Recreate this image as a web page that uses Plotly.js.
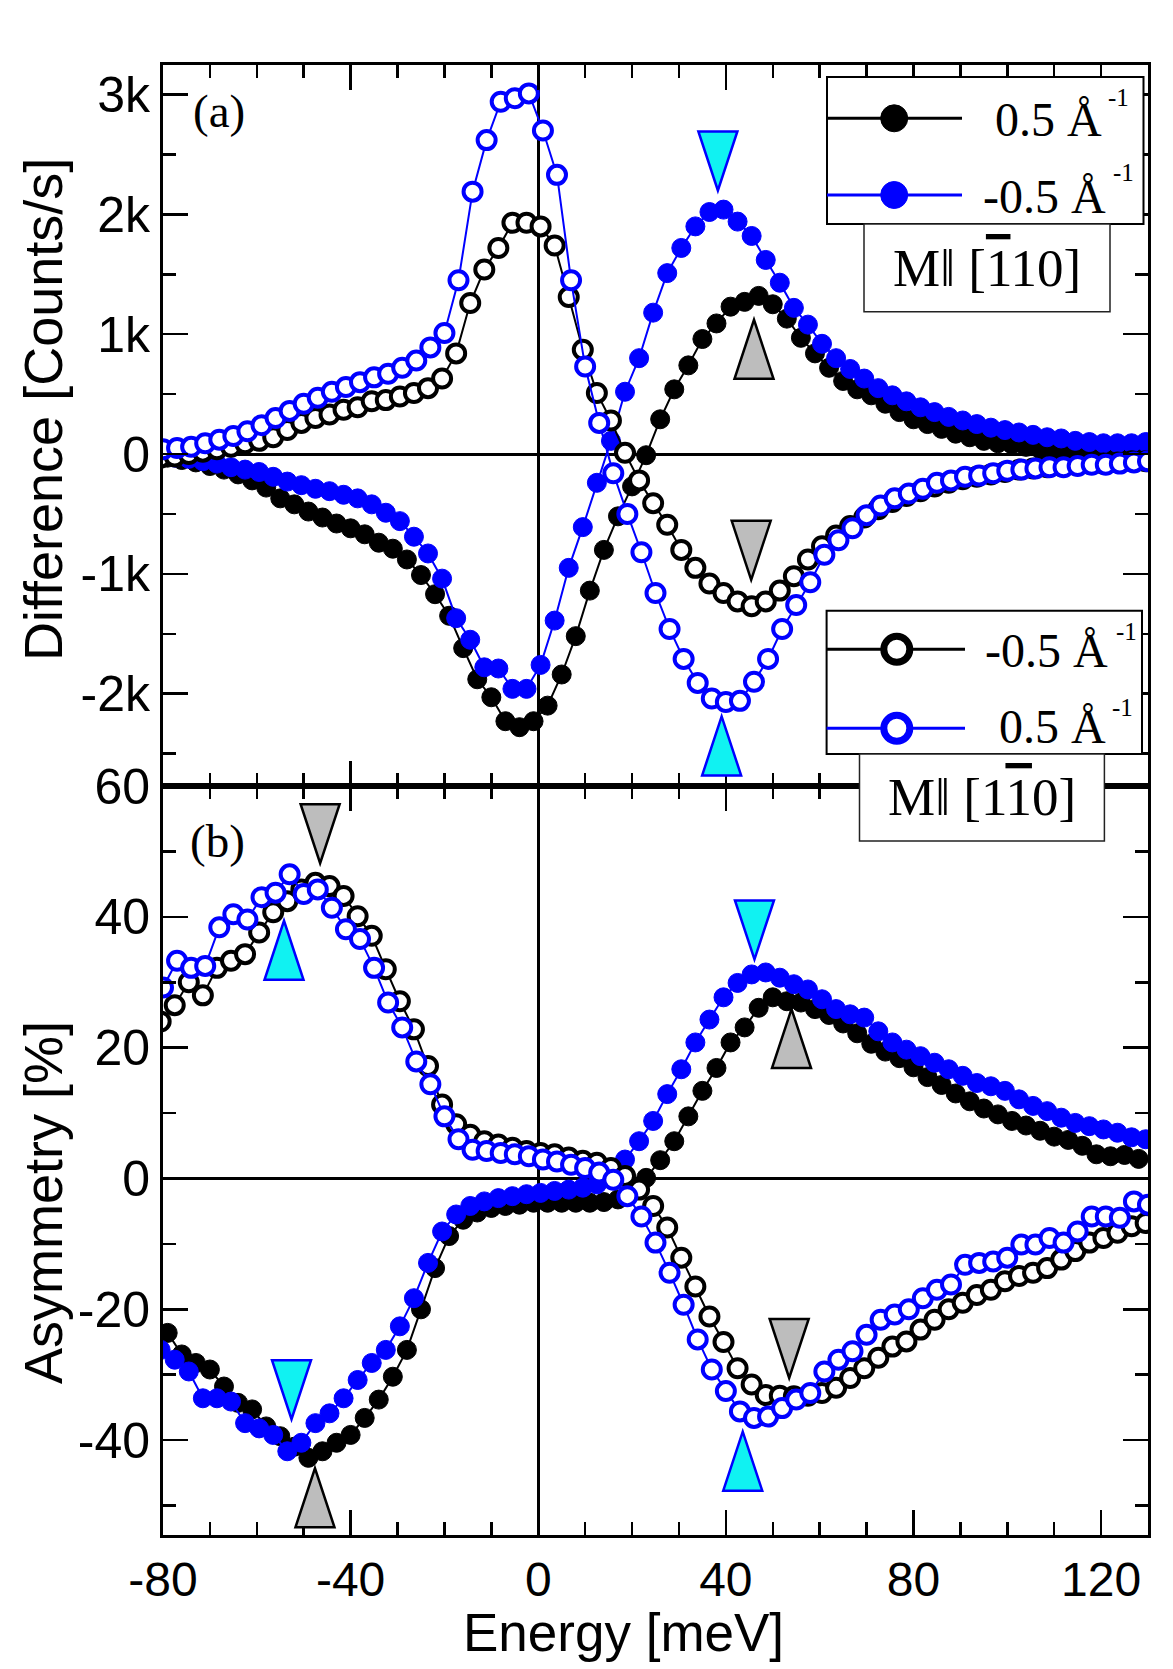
<!DOCTYPE html>
<html>
<head>
<meta charset="utf-8">
<script src="https://cdn.plot.ly/plotly-3.0.1.min.js"></script>
<style>
  html, body { margin: 0; padding: 0; background: #ffffff; }
  #chart { width: 1173px; height: 1669px; }
</style>
</head>
<body>
<div id="chart"></div>
<script>
// ---------------- energy grids (meV) ----------------
const energyBlackFilled = [-79,-76,-73,-70,-67,-64,-61,-58,-55,-52,-49,-46,-43,-40,-37,-34,-31,-28,-25,-22,-19,-16,-13,-10,-7,-4,-1,2,5,8,11,14,17,20,23,26,29,32,35,38,41,44,47,50,53,56,59,62,65,68,71,74,77,80,83,86,89,92,95,98,101,104,107,110,113,116,119,122,125,128];
const energyBlueFilled = [-80.5,-77.5,-74.5,-71.5,-68.5,-65.5,-62.5,-59.5,-56.5,-53.5,-50.5,-47.5,-44.5,-41.5,-38.5,-35.5,-32.5,-29.5,-26.5,-23.5,-20.5,-17.5,-14.5,-11.5,-8.5,-5.5,-2.5,0.5,3.5,6.5,9.5,12.5,15.5,18.5,21.5,24.5,27.5,30.5,33.5,36.5,39.5,42.5,45.5,48.5,51.5,54.5,57.5,60.5,63.5,66.5,69.5,72.5,75.5,78.5,81.5,84.5,87.5,90.5,93.5,96.5,99.5,102.5,105.5,108.5,111.5,114.5,117.5,120.5,123.5,126.5,129.5];
const energyBlackOpen = [-80.5,-77.5,-74.5,-71.5,-68.5,-65.5,-62.5,-59.5,-56.5,-53.5,-50.5,-47.5,-44.5,-41.5,-38.5,-35.5,-32.5,-29.5,-26.5,-23.5,-20.5,-17.5,-14.5,-11.5,-8.5,-5.5,-2.5,0.5,3.5,6.5,9.5,12.5,15.5,18.5,21.5,24.5,27.5,30.5,33.5,36.5,39.5,42.5,45.5,48.5,51.5,54.5,57.5,60.5,63.5,66.5,69.5,72.5,75.5,78.5,81.5,84.5,87.5,90.5,93.5,96.5,99.5,102.5,105.5,108.5,111.5,114.5,117.5,120.5,123.5,126.5,129.5];
const energyBlueOpen = [-80,-77,-74,-71,-68,-65,-62,-59,-56,-53,-50,-47,-44,-41,-38,-35,-32,-29,-26,-23,-20,-17,-14,-11,-8,-5,-2,1,4,7,10,13,16,19,22,25,28,31,34,37,40,43,46,49,52,55,58,61,64,67,70,73,76,79,82,85,88,91,94,97,100,103,106,109,112,115,118,121,124,127,130];

// ---------------- (a) difference, counts/s ----------------
// M || [-110]:  0.5 1/A (black, filled) and -0.5 1/A (blue, filled)
const diffBlackFilled = [-30,-50,-70,-100,-130,-170,-220,-280,-370,-420,-480,-530,-580,-620,-670,-740,-790,-880,-1010,-1170,-1350,-1620,-1880,-2030,-2230,-2280,-2230,-2100,-1840,-1520,-1140,-800,-520,-270,-10,290,540,740,960,1090,1230,1270,1320,1250,1130,970,840,720,610,540,490,420,350,290,250,210,170,140,110,90,80,60,40,30,20,10,10,0,0,0];
const diffBlueFilled = [-20,-30,-40,-60,-80,-110,-130,-150,-190,-230,-260,-290,-310,-340,-370,-420,-490,-560,-690,-830,-1040,-1370,-1550,-1780,-1790,-1960,-1960,-1760,-1390,-950,-610,-240,110,520,800,1180,1510,1720,1900,2020,2040,1940,1820,1620,1430,1220,1080,920,800,710,630,550,490,440,390,350,310,280,250,220,200,180,160,140,130,110,100,90,90,90,100];
// M || [1-10]: -0.5 1/A (black, open) and 0.5 1/A (blue, open)
const diffBlackOpen = [-30,-20,0,20,40,60,90,110,140,200,260,300,330,370,390,440,450,480,510,550,630,840,1260,1540,1720,1930,1930,1900,1740,1310,870,510,280,10,-220,-410,-590,-800,-950,-1080,-1160,-1230,-1270,-1230,-1140,-1020,-880,-770,-680,-600,-530,-460,-400,-350,-310,-270,-240,-210,-190,-170,-150,-130,-120,-110,-100,-90,-80,-80,-70,-60,-60];
const diffBlueOpen = [40,50,60,90,120,150,190,240,300,360,420,470,520,560,600,640,670,720,780,890,1010,1450,2190,2620,2940,2970,3010,2700,2330,1450,730,260,-160,-500,-820,-1160,-1460,-1710,-1910,-2040,-2070,-2060,-1900,-1710,-1460,-1260,-1070,-840,-720,-620,-510,-430,-370,-330,-290,-240,-220,-190,-180,-160,-140,-130,-120,-110,-110,-100,-90,-90,-80,-70,-60];

// ---------------- (b) asymmetry, % ----------------
const asymBlackFilled = [-23.6,-26.9,-28.2,-29.2,-31.8,-34.3,-35.3,-37.9,-39.4,-41.0,-42.7,-41.7,-40.4,-39.2,-36.6,-33.8,-30.3,-26.2,-20.0,-13.7,-8.8,-6.3,-5.2,-4.5,-4.2,-4.0,-3.7,-3.7,-3.7,-3.7,-3.7,-3.6,-3.2,-1.8,0.1,2.8,5.7,9.5,13.4,16.9,20.8,23.1,26.1,27.7,27.1,26.9,25.9,25.0,23.7,22.2,20.6,19.4,18.4,17.0,15.5,14.3,13.0,11.8,10.7,9.8,8.8,8.1,7.3,6.4,5.9,5.0,3.7,3.4,3.6,3.0];
const asymBlueFilled = [-26.2,-27.7,-29.5,-33.6,-33.6,-34.1,-37.4,-38.2,-39.2,-41.7,-40.4,-37.4,-35.9,-33.6,-30.8,-28.2,-26.2,-22.6,-18.3,-12.9,-8.1,-5.5,-4.2,-3.5,-3.0,-2.7,-2.4,-2.2,-1.9,-1.7,-1.4,-0.9,0.5,2.9,5.7,8.8,12.9,16.7,20.8,24.3,27.7,29.9,31.2,31.5,30.7,29.7,28.9,27.4,25.9,25.1,24.6,22.5,20.8,19.7,18.7,17.7,16.7,15.7,14.6,14.1,13.4,12.1,11.1,10.3,9.3,8.5,8.0,7.5,7.0,6.3,6.0];
const asymBlackOpen = [24.0,26.5,30.0,28.0,32.2,33.3,34.3,37.6,40.7,42.4,44.2,45.2,44.7,43.2,40.1,37.1,32.0,27.1,22.8,17.2,11.3,8.3,6.7,5.7,5.2,4.7,4.2,3.9,3.7,3.2,2.7,2.4,1.6,0.4,-1.7,-4.2,-7.5,-12.1,-16.5,-21.1,-25.0,-29.0,-31.5,-33.1,-33.2,-33.3,-33.2,-32.8,-32.0,-30.5,-29.0,-27.4,-25.7,-24.9,-23.1,-21.6,-20.0,-19.0,-17.8,-17.0,-15.7,-14.9,-14.4,-13.7,-12.4,-11.1,-9.8,-9.1,-8.3,-7.3,-6.8];
const asymBlueOpen = [29.2,33.3,32.2,32.5,38.4,40.4,39.6,43.0,43.7,46.5,43.5,44.2,41.4,38.1,36.6,32.2,26.9,23.1,17.9,14.4,9.5,6.0,4.4,4.2,3.9,3.7,3.4,2.9,2.6,2.1,1.6,0.9,-0.2,-2.7,-5.8,-9.8,-14.4,-19.3,-24.6,-29.2,-32.5,-35.6,-36.6,-36.4,-35.1,-33.8,-32.8,-29.5,-27.7,-26.4,-23.9,-21.6,-20.8,-20.0,-18.3,-17.0,-16.2,-13.2,-12.9,-12.7,-12.1,-10.1,-10.1,-9.1,-9.8,-8.1,-5.8,-5.8,-6.0,-3.5,-4.0];

// ---------------- peak markers (tip position) ----------------
const peakPanel     = ['a','a','a','a','b','b','b','b','b','b','b','b'];
const peakEnergy    = [38.3, 46.0, 45.4, 39.1, -46.5, -54.2, 46.1, 54.0, -52.6, -47.6, 53.5, 43.6];
const peakValue     = [2200, 1120, -1050, -2190, 48.2, 39.4, 33.5, 25.9, -36.8, -44.3, -30.5, -38.7];
const peakDirection = ['down','up','down','up','down','up','down','up','down','up','down','up'];
const peakKind      = ['cyan','gray','gray','cyan','gray','cyan','cyan','gray','cyan','gray','gray','cyan'];

// ---------------- axis ticks and titles ----------------
const energyTickVals = [-80, -40, 0, 40, 80, 120];
const energyTickText = ['-80', '-40', '0', '40', '80', '120'];
const diffTickVals = [-2000, -1000, 0, 1000, 2000, 3000];
const diffTickText = ['-2k', '-1k', '0', '1k', '2k', '3k'];
const asymTickVals = [-40, -20, 0, 20, 40, 60];
const asymTickText = ['-40', '-20', '0', '20', '40', '60'];
const energyTitle = 'Energy [meV]';
const diffTitle = 'Difference [Counts/s]';
const asymTitle = 'Asymmetry [%]';

// ---------------- legend labels ----------------
const legendLabelsA = ['0.5 Å', '-0.5 Å'];
const legendLabelsB = ['-0.5 Å', '0.5 Å'];
const magLabelA = 'M‖ [<span style="text-decoration:overline">1</span>10]';
const magLabelB = 'M‖ [1<span style="text-decoration:overline">1</span>0]';

// ================= figure geometry =================
const W = 1173, H = 1669;
const M = { l: 163, r: 25, t: 65, b: 134 };
const plotW = W - M.l - M.r;
const plotH = H - M.t - M.b;
const split = 0.5095;
const xRange = [-80, 130];
const diffRange = [-2771, 3247];
const asymRange = [-54.5, 60];

const perPxX = (xRange[1] - xRange[0]) / plotW;
const perPxDiff = (diffRange[1] - diffRange[0]) / (plotH * (1 - split));
const perPxAsym = (asymRange[1] - asymRange[0]) / (plotH * split);

const paperX = px => (px - M.l) / plotW;
const paperY = py => 1 - (py - M.t) / plotH;

const BLACK = '#000000';
const BLUE = '#0000ff';
const SANS = 'Liberation Sans, Arial, sans-serif';
const SERIF = 'Liberation Serif, Times New Roman, serif';

// ================= traces =================
function series(x, y, color, open, panel, name) {
  return {
    type: 'scatter', mode: 'lines+markers', name: name,
    x: x, y: y,
    xaxis: panel === 'a' ? 'x' : 'x2',
    yaxis: panel === 'a' ? 'y' : 'y2',
    line: { color: color, width: 2 },
    marker: open
      ? { symbol: 'circle', size: 18, color: '#ffffff', line: { color: color, width: 4 } }
      : { symbol: 'circle', size: 19, color: color, line: { color: color, width: 1 } },
    showlegend: false, hoverinfo: 'skip'
  };
}

const traces = [
  series(energyBlackFilled, diffBlackFilled, BLACK, false, 'a', '0.5 Å⁻¹, M‖[-110]'),
  series(energyBlueFilled,  diffBlueFilled,  BLUE,  false, 'a', '-0.5 Å⁻¹, M‖[-110]'),
  series(energyBlackOpen,   diffBlackOpen,   BLACK, true,  'a', '-0.5 Å⁻¹, M‖[1-10]'),
  series(energyBlueOpen,    diffBlueOpen,    BLUE,  true,  'a', '0.5 Å⁻¹, M‖[1-10]'),
  series(energyBlackFilled, asymBlackFilled, BLACK, false, 'b', '0.5 Å⁻¹, M‖[-110]'),
  series(energyBlueFilled,  asymBlueFilled,  BLUE,  false, 'b', '-0.5 Å⁻¹, M‖[-110]'),
  series(energyBlackOpen,   asymBlackOpen,   BLACK, true,  'b', '-0.5 Å⁻¹, M‖[1-10]'),
  series(energyBlueOpen,    asymBlueOpen,    BLUE,  true,  'b', '0.5 Å⁻¹, M‖[1-10]')
];

// ================= shapes =================
const shapes = [];
const TRI_W = 39, TRI_H = 59;

peakEnergy.forEach((e, i) => {
  const top = peakPanel[i] === 'a';
  const unitY = top ? perPxDiff : perPxAsym;
  const hw = TRI_W / 2 * perPxX;
  const h = TRI_H * unitY;
  const v = peakValue[i];
  const base = peakDirection[i] === 'down' ? v + h : v - h;
  const cyan = peakKind[i] === 'cyan';
  shapes.push({
    type: 'path', xref: top ? 'x' : 'x2', yref: top ? 'y' : 'y2', layer: 'above',
    path: `M${e - hw},${base} L${e + hw},${base} L${e},${v} Z`,
    fillcolor: cyan ? '#10f2f2' : '#bdbdbd',
    line: { color: cyan ? BLUE : BLACK, width: 2.5 }
  });
});

function box(x0, y0, x1, y1, lw, col) {
  shapes.push({
    type: 'rect', xref: 'paper', yref: 'paper', layer: 'above',
    x0: paperX(x0), x1: paperX(x1), y0: paperY(y1), y1: paperY(y0),
    fillcolor: '#ffffff', line: { color: col, width: lw }
  });
}
function legendLine(x0, x1, y, color) {
  shapes.push({
    type: 'line', xref: 'paper', yref: 'paper', layer: 'above',
    x0: paperX(x0), x1: paperX(x1), y0: paperY(y), y1: paperY(y),
    line: { color: color, width: 3 }
  });
}
function legendDot(x, y, color, open) {
  const r = open ? 13 : 13.5;
  shapes.push({
    type: 'circle', xref: 'paper', yref: 'paper', layer: 'above',
    xsizemode: 'pixel', ysizemode: 'pixel',
    xanchor: paperX(x), yanchor: paperY(y),
    x0: -r, x1: r, y0: -r, y1: r,
    fillcolor: open ? '#ffffff' : color,
    line: { color: color, width: open ? 7 : 1 }
  });
}

// legend of the M || [-110] pair
box(827, 77, 1143.5, 224, 2, BLACK);
legendLine(827, 962, 118.3, BLACK); legendDot(894.2, 118.3, BLACK, false);
legendLine(827, 962, 195, BLUE);    legendDot(894.2, 195, BLUE, false);
box(864, 224, 1110, 311.7, 1.5, '#222222');

// legend of the M || [1-10] pair
box(826.6, 610.7, 1142, 754, 2, BLACK);
legendLine(826.6, 965, 649.3, BLACK); legendDot(896.8, 649.3, BLACK, true);
legendLine(826.6, 965, 728.3, BLUE);  legendDot(896.8, 728.3, BLUE, true);
box(859.5, 754, 1104.4, 841, 1.5, '#222222');

// ================= annotations =================
const annotations = [];
function label(text, x, y, xanchor, size, family, angle) {
  annotations.push({
    xref: 'paper', yref: 'paper', x: paperX(x), y: paperY(y),
    xanchor: xanchor, yanchor: 'middle', showarrow: false, textangle: angle || 0,
    text: text, font: { family: family || SERIF, size: size, color: BLACK }
  });
}
label(legendLabelsA[0], 1104.4, 119.7, 'right', 48);
label('-1', 1106, 97, 'left', 25);
label(legendLabelsA[1], 1108, 197, 'right', 48);
label('-1', 1111, 172.5, 'left', 25);
label(magLabelA, 987, 268, 'center', 53);

label(legendLabelsB[0], 1110, 650, 'right', 48);
label('-1', 1113.5, 631, 'left', 25);
label(legendLabelsB[1], 1108, 727, 'right', 48);
label('-1', 1110, 707, 'left', 25);
label(magLabelB, 982, 797, 'center', 53);

label('(a)', 219, 111, 'center', 47);
label('(b)', 217, 841, 'center', 47);

// axis titles
label(diffTitle, 43, 410, 'center', 54, SANS, -90);
label(asymTitle, 43, 1203, 'center', 54, SANS, -90);
label(energyTitle, 623, 1632, 'center', 53, SANS);

// ================= axes =================
const axisBase = {
  showline: true, linecolor: BLACK, linewidth: 3, mirror: 'ticks',
  ticks: 'inside', ticklen: 25, tickwidth: 2.5, tickcolor: BLACK,
  showgrid: false, zeroline: true, zerolinecolor: BLACK, zerolinewidth: 3,
  tickfont: { family: SANS, size: 50, color: BLACK },
  automargin: false, fixedrange: true
};
const minorX = { tickmode: 'linear', tick0: 0, dtick: 10, ticks: 'inside', ticklen: 13, tickwidth: 2.5, tickcolor: BLACK };

const layout = {
  width: W, height: H, autosize: false,
  margin: M,
  paper_bgcolor: '#ffffff', plot_bgcolor: '#ffffff',
  showlegend: false,
  font: { family: SANS, color: BLACK },
  xaxis: Object.assign({}, axisBase, {
    anchor: 'y', domain: [0, 1], range: xRange,
    tickmode: 'array', tickvals: energyTickVals, ticktext: energyTickText,
    showticklabels: false, minor: minorX
  }),
  xaxis2: Object.assign({}, axisBase, {
    anchor: 'y2', domain: [0, 1], range: xRange,
    tickmode: 'array', tickvals: energyTickVals, ticktext: energyTickText,
    tickfont: { family: SANS, size: 48, color: BLACK },
    ticklabelstandoff: 0, minor: minorX
  }),
  yaxis: Object.assign({}, axisBase, {
    anchor: 'x', domain: [split, 1], range: diffRange,
    tickmode: 'array', tickvals: diffTickVals, ticktext: diffTickText,
    ticklabelstandoff: 0,
    minor: { tickmode: 'linear', tick0: 0, dtick: 500, ticks: 'inside', ticklen: 13, tickwidth: 2.5, tickcolor: BLACK }
  }),
  yaxis2: Object.assign({}, axisBase, {
    anchor: 'x2', domain: [0, split], range: asymRange,
    tickmode: 'array', tickvals: asymTickVals, ticktext: asymTickText,
    ticklabelstandoff: 0,
    minor: { tickmode: 'linear', tick0: 0, dtick: 10, ticks: 'inside', ticklen: 13, tickwidth: 2.5, tickcolor: BLACK }
  }),
  shapes: shapes,
  annotations: annotations
};

Plotly.newPlot('chart', traces, layout, { staticPlot: true, displayModeBar: false });
</script>
</body>
</html>
